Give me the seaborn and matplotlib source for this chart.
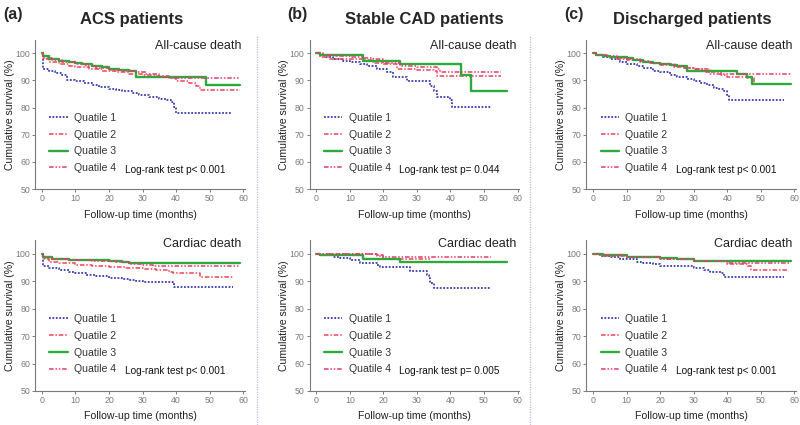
import matplotlib
matplotlib.use("Agg")
import matplotlib.pyplot as plt
from matplotlib.lines import Line2D
import seaborn as sns

# ---------------- data ----------------
PANEL_LABELS = ["(a)", "(b)", "(c)"]
PANEL_TITLES = ["ACS patients", "Stable CAD patients", "Discharged patients"]
OUTCOMES = ["All-cause death", "Cardiac death"]
SERIES = ["Quatile 1", "Quatile 2", "Quatile 3", "Quatile 4"]
PVALUES = [["Log-rank test p< 0.001", "Log-rank test p< 0.001"],
           ["Log-rank test p= 0.044", "Log-rank test p= 0.005"],
           ["Log-rank test p< 0.001", "Log-rank test p< 0.001"]]
X_TICKS = [0, 10, 20, 30, 40, 50, 60]
Y_TICKS = [50, 60, 70, 80, 90, 100]

# (a) ACS, all-cause death
A_ALL_Q1_T = [0, 0.3, 2, 4, 6, 7.5, 10, 12.5, 15, 17, 20, 22, 24, 27, 29, 32, 35, 37, 38.5, 39.3, 40, 56.5]
A_ALL_Q1_S = [100, 94.2, 93.6, 92.8, 91.8, 90.2, 89.8, 89.0, 88.2, 87.6, 86.9, 86.3, 85.9, 85.2, 84.6, 83.8, 83.2, 82.6, 82.0, 80.2, 78.0, 78.0]
A_ALL_Q2_T = [0, 0.3, 2, 5, 8, 10, 14, 18, 22, 26, 30, 34, 38, 40, 44, 46, 47, 59]
A_ALL_Q2_S = [100, 98.0, 96.8, 96.0, 95.4, 95.0, 94.2, 93.6, 92.9, 92.4, 92.0, 91.5, 90.8, 89.6, 89.0, 88.0, 86.5, 86.5]
A_ALL_Q3_T = [0, 0.3, 2, 5, 8, 10, 12, 15, 18, 20, 23, 26, 28, 49, 59]
A_ALL_Q3_S = [100, 98.8, 98.0, 97.2, 96.8, 96.5, 96.0, 95.3, 94.8, 94.3, 93.8, 93.5, 91.2, 88.3, 88.3]
A_ALL_Q4_T = [0, 0.3, 3, 6, 10, 13, 16, 20, 24, 28, 31, 35, 38, 59]
A_ALL_Q4_S = [100, 98.2, 97.4, 96.8, 96.0, 95.2, 94.6, 93.8, 93.3, 92.9, 92.2, 91.2, 90.8, 90.8]

# (a) ACS, cardiac death
A_CAR_Q1_T = [0, 0.3, 2, 5, 8, 10, 13, 16, 20, 24, 26, 28, 30, 39, 39.5, 57]
A_CAR_Q1_S = [100, 95.4, 94.8, 94.0, 93.2, 92.9, 92.4, 91.8, 91.1, 90.9, 90.6, 90.2, 89.9, 89.3, 87.8, 87.8]
A_CAR_Q2_T = [0, 0.3, 2, 5, 10, 15, 20, 25, 30, 34, 38, 39, 47, 57]
A_CAR_Q2_S = [100, 98.0, 97.0, 96.6, 96.0, 95.6, 95.2, 94.9, 94.5, 94.0, 93.5, 92.9, 91.5, 91.5]
A_CAR_Q3_T = [0, 0.3, 3, 8, 14, 20, 24, 26, 59]
A_CAR_Q3_S = [100, 99.0, 98.2, 97.8, 97.6, 97.3, 97.0, 96.6, 96.6]
A_CAR_Q4_T = [0, 0.3, 3, 8, 15, 22, 26, 30, 33, 59]
A_CAR_Q4_S = [100, 98.5, 98.0, 97.7, 97.3, 96.9, 96.3, 96.0, 95.5, 95.5]

# (b) Stable CAD, all-cause death
B_ALL_Q1_T = [0, 1, 3, 5, 8, 10, 13, 15, 18, 21, 23, 27, 34, 35, 36, 40, 40.5, 52]
B_ALL_Q1_S = [100, 99.4, 98.6, 97.8, 97.2, 96.6, 96.0, 95.4, 94.1, 92.9, 91.1, 89.9, 88.0, 86.2, 83.8, 82.6, 80.1, 80.1]
B_ALL_Q2_T = [0, 1, 4, 10, 14, 17, 20, 24, 30, 35, 36, 55]
B_ALL_Q2_S = [100, 98.6, 98.0, 97.8, 97.3, 96.5, 95.9, 94.1, 93.8, 93.5, 91.7, 91.7]
B_ALL_Q3_T = [0, 1, 14, 25, 43, 46, 57]
B_ALL_Q3_S = [100, 99.2, 97.0, 96.0, 92.0, 86.2, 86.2]
B_ALL_Q4_T = [0, 2, 6, 10, 14, 17, 20, 25, 30, 36, 37, 55]
B_ALL_Q4_S = [100, 99.3, 99.0, 98.7, 98.3, 97.8, 96.3, 95.4, 94.8, 94.1, 92.9, 92.9]

# (b) Stable CAD, cardiac death
B_CAR_Q1_T = [0, 1, 5, 7, 10, 13, 18, 19, 28, 33, 33.5, 34, 35, 52]
B_CAR_Q1_S = [100, 99.5, 99.0, 98.4, 97.8, 96.6, 96.0, 95.1, 93.9, 92.3, 91.1, 89.5, 87.7, 87.7]
B_CAR_Q2_T = [0, 5, 18, 20, 34]
B_CAR_Q2_S = [100, 99.8, 99.2, 98.3, 98.3]
B_CAR_Q3_T = [0, 1, 14, 25, 57]
B_CAR_Q3_S = [100, 99.5, 98.0, 97.0, 97.0]
B_CAR_Q4_T = [0, 18, 20, 52]
B_CAR_Q4_S = [100, 99.6, 98.8, 98.8]

# (c) Discharged, all-cause death
C_ALL_Q1_T = [0, 1, 3, 5, 8, 10, 13, 15, 18, 20, 23, 25, 28, 30, 32, 34, 36, 37, 39, 40, 40.5, 57]
C_ALL_Q1_S = [100, 99.4, 98.6, 97.8, 96.8, 96.1, 95.3, 94.5, 93.6, 92.9, 92.0, 91.4, 90.6, 89.8, 89.2, 88.3, 87.3, 86.7, 86.2, 84.6, 82.8, 82.8]
C_ALL_Q2_T = [0, 1, 4, 7, 10, 14, 17, 20, 24, 27, 30, 35, 38, 40, 46, 48, 59]
C_ALL_Q2_S = [100, 99.3, 98.6, 98.0, 97.5, 96.8, 96.3, 95.7, 95.0, 94.5, 94.1, 92.9, 92.0, 91.4, 90.8, 88.7, 88.7]
C_ALL_Q3_T = [0, 1, 3, 5, 10, 12, 15, 18, 20, 23, 25, 28, 43, 46, 47.5, 59]
C_ALL_Q3_S = [100, 99.3, 98.8, 98.5, 98.2, 97.6, 96.9, 96.5, 96.1, 95.6, 95.3, 93.4, 92.4, 91.2, 88.6, 88.6]
C_ALL_Q4_T = [0, 1, 4, 7, 10, 14, 17, 20, 24, 27, 30, 33, 35, 59]
C_ALL_Q4_S = [100, 99.4, 98.8, 98.3, 97.8, 97.0, 96.4, 95.9, 95.2, 94.7, 94.2, 93.2, 92.2, 92.2]

# (c) Discharged, cardiac death
C_CAR_Q1_T = [0, 2, 5, 8, 10, 13, 15, 18, 20, 27, 30, 33, 35, 38, 39, 57]
C_CAR_Q1_S = [100, 99.3, 98.8, 98.3, 98.0, 97.2, 96.8, 96.2, 95.7, 95.4, 94.8, 94.2, 93.5, 92.9, 91.5, 91.5]
C_CAR_Q2_T = [0, 3, 10, 20, 30, 40, 46, 47, 58]
C_CAR_Q2_S = [100, 99.3, 98.9, 98.2, 97.5, 96.3, 95.6, 94.1, 94.1]
C_CAR_Q3_T = [0, 3, 10, 15, 20, 25, 30, 59]
C_CAR_Q3_S = [100, 99.4, 99.0, 98.7, 98.4, 98.0, 97.4, 97.4]
C_CAR_Q4_T = [0, 3, 10, 20, 30, 40, 59]
C_CAR_Q4_S = [100, 99.4, 99.0, 98.3, 97.4, 96.8, 96.8]

DATA = {
    (0, 0): [(A_ALL_Q1_T, A_ALL_Q1_S), (A_ALL_Q2_T, A_ALL_Q2_S), (A_ALL_Q3_T, A_ALL_Q3_S), (A_ALL_Q4_T, A_ALL_Q4_S)],
    (0, 1): [(A_CAR_Q1_T, A_CAR_Q1_S), (A_CAR_Q2_T, A_CAR_Q2_S), (A_CAR_Q3_T, A_CAR_Q3_S), (A_CAR_Q4_T, A_CAR_Q4_S)],
    (1, 0): [(B_ALL_Q1_T, B_ALL_Q1_S), (B_ALL_Q2_T, B_ALL_Q2_S), (B_ALL_Q3_T, B_ALL_Q3_S), (B_ALL_Q4_T, B_ALL_Q4_S)],
    (1, 1): [(B_CAR_Q1_T, B_CAR_Q1_S), (B_CAR_Q2_T, B_CAR_Q2_S), (B_CAR_Q3_T, B_CAR_Q3_S), (B_CAR_Q4_T, B_CAR_Q4_S)],
    (2, 0): [(C_ALL_Q1_T, C_ALL_Q1_S), (C_ALL_Q2_T, C_ALL_Q2_S), (C_ALL_Q3_T, C_ALL_Q3_S), (C_ALL_Q4_T, C_ALL_Q4_S)],
    (2, 1): [(C_CAR_Q1_T, C_CAR_Q1_S), (C_CAR_Q2_T, C_CAR_Q2_S), (C_CAR_Q3_T, C_CAR_Q3_S), (C_CAR_Q4_T, C_CAR_Q4_S)],
}

# ---------------- styling ----------------
sns.set_theme(style="white")
plt.rcParams["font.family"] = ["Liberation Sans", "DejaVu Sans"]

COLORS = ["#3b3bb0", "#ee4455", "#2eaa3c", "#e23a6c"]
STYLES = [(0, (1.0, 0.9)), (0, (3, 1.2, 1, 1.2)), "-", (0, (3, 1.2, 1, 1.2, 1, 1.2))]
WIDTHS = [1.3, 1.1, 1.7, 1.1]

GREY = "#7a7a7a"
fig = plt.figure(figsize=(8, 4.25), dpi=100)

LEFTS = [0.044, 0.387, 0.733]
BOTTOMS = [0.555, 0.080]
HEIGHTS = [0.352, 0.355]
WIDTH = 0.262

for p in range(3):
    for r in range(2):
        ax = fig.add_axes([LEFTS[p], BOTTOMS[r], WIDTH, HEIGHTS[r]])
        for q, (t, s) in enumerate(DATA[(p, r)]):
            sns.lineplot(x=t, y=s, ax=ax, color=COLORS[q], linestyle=STYLES[q],
                         linewidth=WIDTHS[q], drawstyle="steps-post",
                         estimator=None, sort=False, label=SERIES[q])
        ax.set_xlim(-2, 60.5)
        ax.set_ylim(50, 105)
        ax.set_xticks(X_TICKS)
        ax.set_yticks(Y_TICKS)
        ax.tick_params(axis="both", which="major", labelsize=6.3, colors=GREY,
                       length=2.5, width=0.7, direction="out", pad=1.2,
                       bottom=True, left=True)
        for side in ["top", "right"]:
            ax.spines[side].set_visible(False)
        for side in ["left", "bottom"]:
            ax.spines[side].set_color(GREY)
            ax.spines[side].set_linewidth(0.8)
        ax.set_ylabel("Cumulative survival (%)", fontsize=7.6, color="#222222", labelpad=0.5)
        ax.set_xlabel("Follow-up time (months)", fontsize=7.6, color="#222222", labelpad=4.5)
        ax.text(0.985, 0.955 if r == 0 else 0.975, OUTCOMES[r], transform=ax.transAxes,
                ha="right", va="center", fontsize=9, color="#222222")
        ax.text(0.428, 0.13, PVALUES[p][r], transform=ax.transAxes,
                ha="left", va="center", fontsize=7.2, color="#111111")
        leg = ax.legend(loc="upper left", bbox_to_anchor=(0.068, 0.51), frameon=False,
                        fontsize=7.6, handlelength=1.75, handletextpad=0.6,
                        labelspacing=0.64, borderaxespad=0, borderpad=0)
        for txt in leg.get_texts():
            txt.set_color("#333333")
        ax.patch.set_alpha(0)

    # panel label
    fig.text(LEFTS[p] - 0.04 if p == 0 else LEFTS[p] - 0.028, 0.965, PANEL_LABELS[p],
             fontsize=11.5, fontweight="bold", ha="left", va="center")

fig.text(0.164, 0.955, PANEL_TITLES[0], fontsize=12, fontweight="bold", ha="center", va="center")
fig.text(0.530, 0.955, PANEL_TITLES[1], fontsize=12, fontweight="bold", ha="center", va="center")
fig.text(0.865, 0.955, PANEL_TITLES[2], fontsize=12, fontweight="bold", ha="center", va="center")

# dotted separators between panels
for xf in [0.321, 0.663]:
    fig.add_artist(Line2D([xf, xf], [0.0, 0.915], transform=fig.transFigure,
                          color="#b8b8e6", linewidth=0.9, linestyle=(0, (1, 1))))

fig.savefig("out.png", dpi=100)
